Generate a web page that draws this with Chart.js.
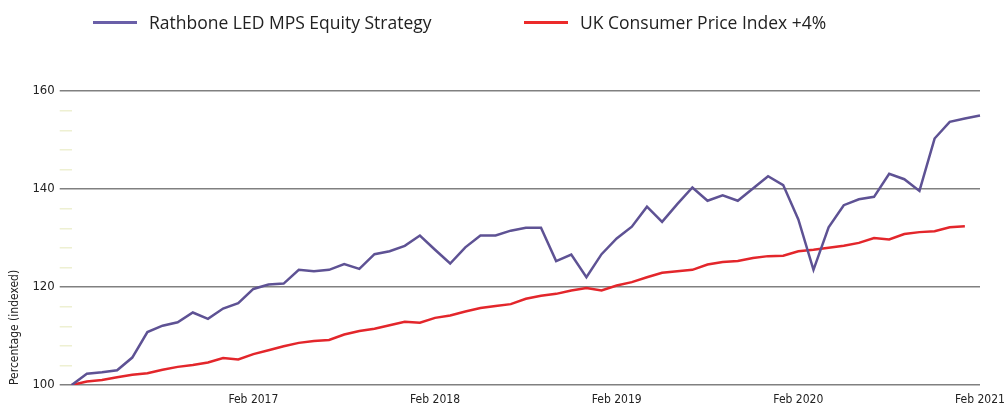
<!DOCTYPE html>
<html>
<head>
<meta charset="utf-8">
<script src="https://cdn.jsdelivr.net/npm/chart.js@4/dist/chart.umd.min.js"></script>
<style>
  html, body { margin: 0; padding: 0; background: #ffffff; }
  #wrap { position: relative; width: 1006px; height: 408px; }
  #legend { position: absolute; left: 0; top: 0; width: 1006px; height: 46px; font-family: "Open Sans", sans-serif; font-size: 17.5px; color: #222; }
  .item { position: absolute; top: 10px; display: flex; align-items: center; white-space: nowrap; }
  .swatch { display: inline-block; width: 44px; height: 3px; margin-right: 12px; }
  canvas { position: absolute; left: 0; top: 0; }
</style>
</head>
<body>
<div id="wrap">
  <canvas id="c" width="1006" height="408"></canvas>
  <div id="legend"></div>
</div>
<script>
// Monthly points, Feb 2016 .. Feb 2021
const monthNames = ['Feb','Mar','Apr','May','Jun','Jul','Aug','Sep','Oct','Nov','Dec','Jan'];
const startYear = 2016;
const months = [];
for (let i = 0; i <= 60; i++) {
  const mIdx = i % 12;
  const y = startYear + Math.floor(i / 12) + (mIdx === 11 ? 1 : 0);
  months.push(monthNames[mIdx] + ' ' + y);
}

const seriesNames = ['Rathbone LED MPS Equity Strategy', 'UK Consumer Price Index +4%'];
const seriesColors = ['#5e5294', '#e3262b'];
const legendColors = ['#6a5fa8', '#ec2a2a'];

const rathbone = [
  100.0, 102.3, 102.6, 103.0, 105.6, 110.8, 112.1, 112.8, 114.8, 113.5,
  115.6, 116.7, 119.6, 120.5, 120.7, 123.5, 123.2, 123.5, 124.7, 123.7,
  126.7, 127.3, 128.4, 130.5, 127.6, 124.8, 128.1, 130.5, 130.5, 131.5,
  132.1, 132.1, 125.3, 126.6, 122.0, 126.7, 129.9, 132.3, 136.4, 133.3,
  136.9, 140.3, 137.6, 138.7, 137.6, 140.1, 142.6, 140.8, 133.8, 123.5,
  132.2, 136.7, 137.9, 138.4, 143.1, 142.0, 139.6, 150.3, 153.7, 154.4,
  155.0
];
const cpiPlus4 = [
  100.0, 100.7, 101.0, 101.6, 102.1, 102.4, 103.1, 103.7, 104.1, 104.6,
  105.5, 105.2, 106.3, 107.1, 107.9, 108.6, 109.0, 109.2, 110.3, 111.0,
  111.5, 112.2, 112.9, 112.7, 113.7, 114.2, 115.0, 115.7, 116.1, 116.5,
  117.6, 118.2, 118.6, 119.3, 119.8, 119.3, 120.3, 121.0, 122.0, 122.9,
  123.2, 123.5, 124.6, 125.1, 125.3, 125.9, 126.3, 126.4, 127.3, 127.6,
  128.0, 128.4, 129.0, 130.0, 129.7, 130.8, 131.2, 131.4, 132.2, 132.4,
  null
];

const yMin = 100, yMax = 160, yMajor = 20, yMinor = 4;
const axisFont = "'DejaVu Sans Condensed', 'DejaVu Sans', sans-serif";
const isMajor = (v) => Math.abs(v / yMajor - Math.round(v / yMajor)) < 1e-6;

// HTML legend
const legendPos = [93, 524];
const lg = document.getElementById('legend');
seriesNames.forEach((n, i) => {
  const d = document.createElement('div');
  d.className = 'item';
  d.style.left = legendPos[i] + 'px';
  const s = document.createElement('span');
  s.className = 'swatch';
  s.style.background = legendColors[i];
  const t = document.createElement('span');
  t.textContent = n;
  d.appendChild(s); d.appendChild(t);
  lg.appendChild(d);
});

// stop the gridlines at the last category position (labels below stay visible)
const gridEnd = {
  id: 'gridEnd',
  beforeDraw(chart) {
    const ctx = chart.ctx;
    const xs = chart.scales.x;
    const xEnd = xs.getPixelForValue(chart.data.labels.length - 1) + 2;
    const yb = chart.chartArea.bottom + 2;
    ctx.save();
    ctx.beginPath();
    ctx.rect(0, 0, xEnd, chart.height);
    ctx.rect(xEnd, yb, chart.width - xEnd, chart.height - yb);
    ctx.clip();
  },
  afterDraw(chart) {
    chart.ctx.restore();
  }
};

new Chart(document.getElementById('c'), {
  type: 'line',
  data: {
    labels: months,
    datasets: [
      { label: seriesNames[0], data: rathbone, borderColor: seriesColors[0], borderWidth: 2.5, pointRadius: 0, tension: 0, fill: false },
      { label: seriesNames[1], data: cpiPlus4, borderColor: seriesColors[1], borderWidth: 2.5, pointRadius: 0, tension: 0, fill: false }
    ]
  },
  plugins: [gridEnd],
  options: {
    responsive: false,
    animation: false,
    layout: { padding: { top: 91, right: 26, left: 8, bottom: 0 } },
    plugins: { legend: { display: false }, tooltip: { enabled: false } },
    scales: {
      x: {
        type: 'category',
        offset: false,
        afterFit: (s) => { s.paddingRight = 0; s.paddingLeft = 0; s.height = 23; },
        grid: { display: false, drawTicks: false },
        border: { display: false },
        ticks: {
          autoSkip: false, maxRotation: 0, minRotation: 0, padding: 8,
          color: '#222', font: { family: axisFont, size: 12 },
          callback: function (v, i) { return (i > 0 && i % 12 === 0) ? months[i] : ''; }
        }
      },
      y: {
        min: yMin, max: yMax,
        border: { display: false },
        grid: {
          drawTicks: true, tickLength: 12, lineWidth: 1.4,
          color: (ctx) => (ctx.tick && isMajor(ctx.tick.value)) ? '#808080' : 'rgba(0,0,0,0)',
          tickColor: (ctx) => (ctx.tick && isMajor(ctx.tick.value)) ? '#808080' : '#eef0d2'
        },
        ticks: {
          stepSize: yMinor, padding: 5, color: '#222',
          font: { family: axisFont, size: 13 },
          callback: (v) => (isMajor(v) ? String(Math.round(v)) : '')
        },
        title: {
          display: true, text: 'Percentage (indexed)', align: 'start',
          color: '#222', font: { family: axisFont, size: 12 }, padding: { top: 0, bottom: 5 }
        }
      }
    }
  }
});
</script>
</body>
</html>
